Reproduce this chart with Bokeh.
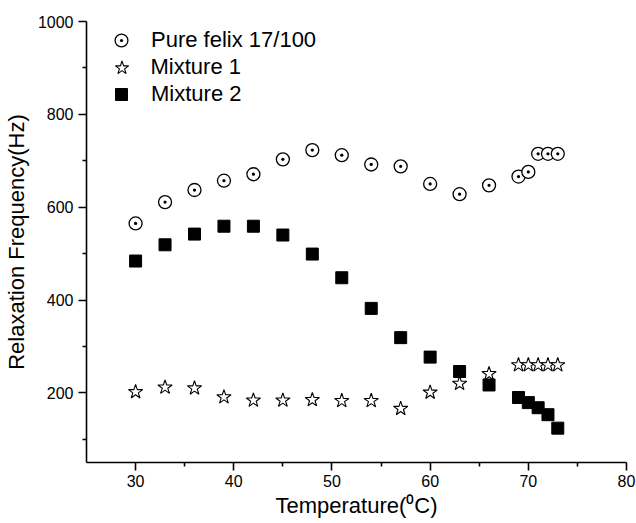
from bokeh.plotting import figure
from bokeh.models import Range1d, FixedTicker, Legend, LegendItem
from bokeh.embed import file_html
from bokeh.resources import INLINE

# Data
temperature = [30, 33, 36, 39, 42, 45, 48, 51, 54, 57, 60, 63, 66, 69, 70, 71, 72, 73]
pure_felix = [565, 611, 637, 657, 671, 703, 723, 712, 692, 688, 650, 628, 647, 666, 676, 715, 715, 715]
mixture1 = [202, 212, 210, 191, 184, 184, 185, 183, 183, 166, 201, 220, 241, 260, 260, 260, 260, 260]
mixture2 = [484, 519, 542, 559, 559, 540, 499, 448, 382, 319, 277, 246, 217, 190, 179, 168, 153, 124]

x_major = [30, 40, 50, 60, 70, 80]
x_minor = [35, 45, 55, 65, 75]
y_major = [200, 400, 600, 800, 1000]
y_minor = [100, 300, 500, 700, 900]

FONT = "Liberation Sans"

W, H = 636, 523
BL, BR, BT, BB = 83, 10, 21, 61
FRAME_H = H - BT - BB

p = figure(width=W, height=H, output_backend="svg", toolbar_location=None,
           x_range=Range1d(25, 80), y_range=Range1d(50, 1000),
           min_border_left=BL, min_border_right=BR, min_border_top=BT, min_border_bottom=BB)

p.outline_line_color = None
p.xgrid.visible = False
p.ygrid.visible = False
p.background_fill_color = "white"
p.border_fill_color = "white"

r1 = p.scatter(temperature, pure_felix, marker="circle_dot", size=13, fill_color="white",
               line_color="black", line_width=1.3)
r2 = p.scatter(temperature, mixture1, marker="star", size=15, fill_color="white",
               line_color="black", line_width=1.1)
r3 = p.scatter(temperature, mixture2, marker="square", size=12, fill_color="black",
               line_color="black", line_width=1)

for ax, major, minor in ((p.xaxis[0], x_major, x_minor), (p.yaxis[0], y_major, y_minor)):
    ax.ticker = FixedTicker(ticks=major, minor_ticks=minor)
    ax.axis_line_width = 1.6
    ax.axis_line_color = "black"
    ax.major_tick_line_width = 1.6
    ax.minor_tick_line_width = 1.6
    ax.major_tick_line_color = "black"
    ax.minor_tick_line_color = "black"
    ax.major_tick_in = 0
    ax.major_tick_out = 8
    ax.minor_tick_in = 0
    ax.minor_tick_out = 4
    ax.major_label_text_font = FONT
    ax.major_label_text_font_size = "16px"
    ax.major_label_text_color = "black"
    ax.axis_label_text_font = FONT
    ax.axis_label_text_font_size = "22px"
    ax.axis_label_text_font_style = "normal"
    ax.axis_label_text_color = "black"

p.xaxis.axis_label = "Temperature(\u2070C)"
p.yaxis.axis_label = "Relaxation Frequency(Hz)"
p.xaxis.major_label_standoff = 4
p.yaxis.major_label_standoff = 5
p.xaxis.axis_label_standoff = 3
p.yaxis.axis_label_standoff = 6

# One legend per entry so each marker sample gets its own size
# (row centre below frame top, sample box size)
entries = [("Pure felix 17/100", r1, 19, 32),
           ("Mixture 1", r2, 46, 35),
           ("Mixture 2", r3, 73, 30)]
for label, rend, rc, g in entries:
    lg = Legend(items=[LegendItem(label=label, renderers=[rend])],
                location=(35 - g / 2, FRAME_H - rc - g / 2))
    lg.border_line_color = None
    lg.background_fill_alpha = 0
    lg.margin = 0
    lg.padding = 0
    lg.glyph_width = g
    lg.glyph_height = g
    lg.label_height = 20
    lg.label_standoff = int(round(30 - g / 2))
    lg.label_text_font = FONT
    lg.label_text_font_size = "22px"
    lg.label_text_color = "black"
    p.add_layout(lg, "center")

open("out.html", "w").write(file_html(p, INLINE))
